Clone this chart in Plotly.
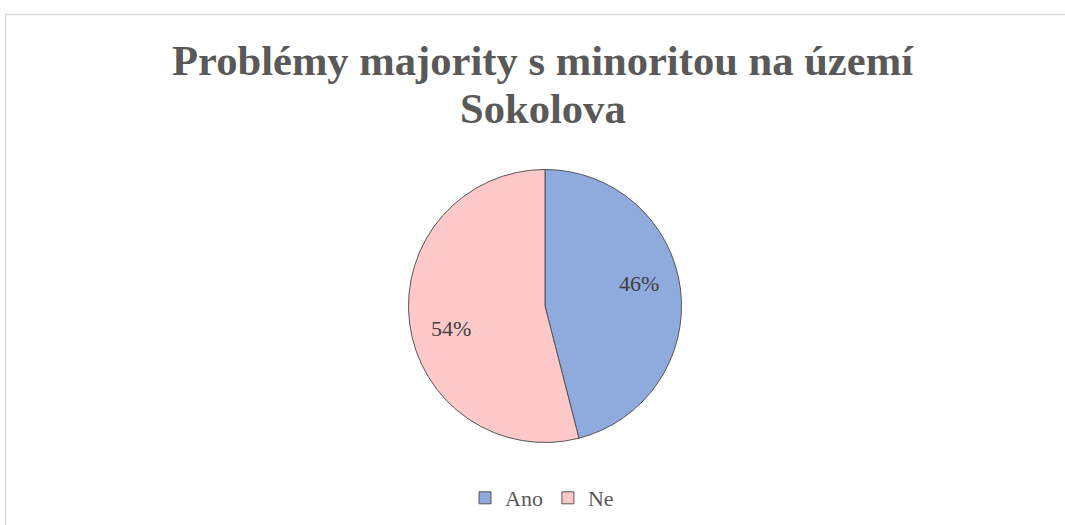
import math
import plotly.graph_objects as go

labels = ["Ano", "Ne"]
values = [46, 54]
colors = ["#8FAADC", "#FFC9C9"]
title_lines = ["Problémy majority s minoritou na území", "Sokolova"]

W, H = 1065, 525
# pie geometry in pixels
CX, CY, R = 545, 306, 136.5

fig = go.Figure(go.Pie(
    labels=labels,
    values=values,
    sort=False,
    direction="clockwise",
    rotation=0,
    marker=dict(colors=colors, line=dict(color="#555555", width=1)),
    textinfo="none",
    hoverinfo="label+percent",
    domain=dict(x=[(CX - R) / W, (CX + R) / W], y=[1 - (CY + R) / H, 1 - (CY - R) / H]),
))

# percentage labels placed along each slice's mid-angle
total = sum(values)
annotations = []
cum = 0
for lab, v in zip(labels, values):
    mid = (cum + v / 2) / total * 360 - 6
    cum += v
    th = math.radians(mid)
    r = 0.71 * R
    px = CX + r * math.sin(th)
    py = CY - r * math.cos(th)
    annotations.append(dict(
        text=f"{round(v / total * 100)}%",
        x=px / W, y=1 - py / H, xref="paper", yref="paper",
        xanchor="center", yanchor="middle", showarrow=False,
        font=dict(family="Liberation Serif", size=22, color="#404040"),
    ))

# title lines
for line, yc in zip(title_lines, [60, 109]):
    annotations.append(dict(
        text="<b>" + line + "</b>",
        x=543 / W, y=1 - yc / H, xref="paper", yref="paper",
        xanchor="center", yanchor="middle", showarrow=False,
        font=dict(family="Liberation Serif", size=42.6, color="#595959"),
    ))

fig.update_layout(
    width=W, height=H,
    margin=dict(l=0, r=0, t=0, b=0),
    paper_bgcolor="white",
    plot_bgcolor="white",
    showlegend=True,
    legend=dict(
        orientation="h",
        x=542 / W, xanchor="center",
        y=1 - 498 / H, yanchor="middle",
        font=dict(family="Liberation Serif", size=22, color="#595959"),
        itemwidth=30,
        tracegroupgap=0,
    ),
    annotations=annotations,
    shapes=[
        dict(type="line", xref="paper", yref="paper", x0=5.5 / W, x1=1.0, y0=1 - 14.5 / H, y1=1 - 14.5 / H,
             line=dict(color="#D9D9D9", width=1.5)),
        dict(type="line", xref="paper", yref="paper", x0=5.5 / W, x1=5.5 / W, y0=0, y1=1 - 14.5 / H,
             line=dict(color="#D9D9D9", width=1.5)),
    ],
)

fig.write_html("out.html", config={"displayModeBar": False},
               post_script="document.body.style.margin='0';")
